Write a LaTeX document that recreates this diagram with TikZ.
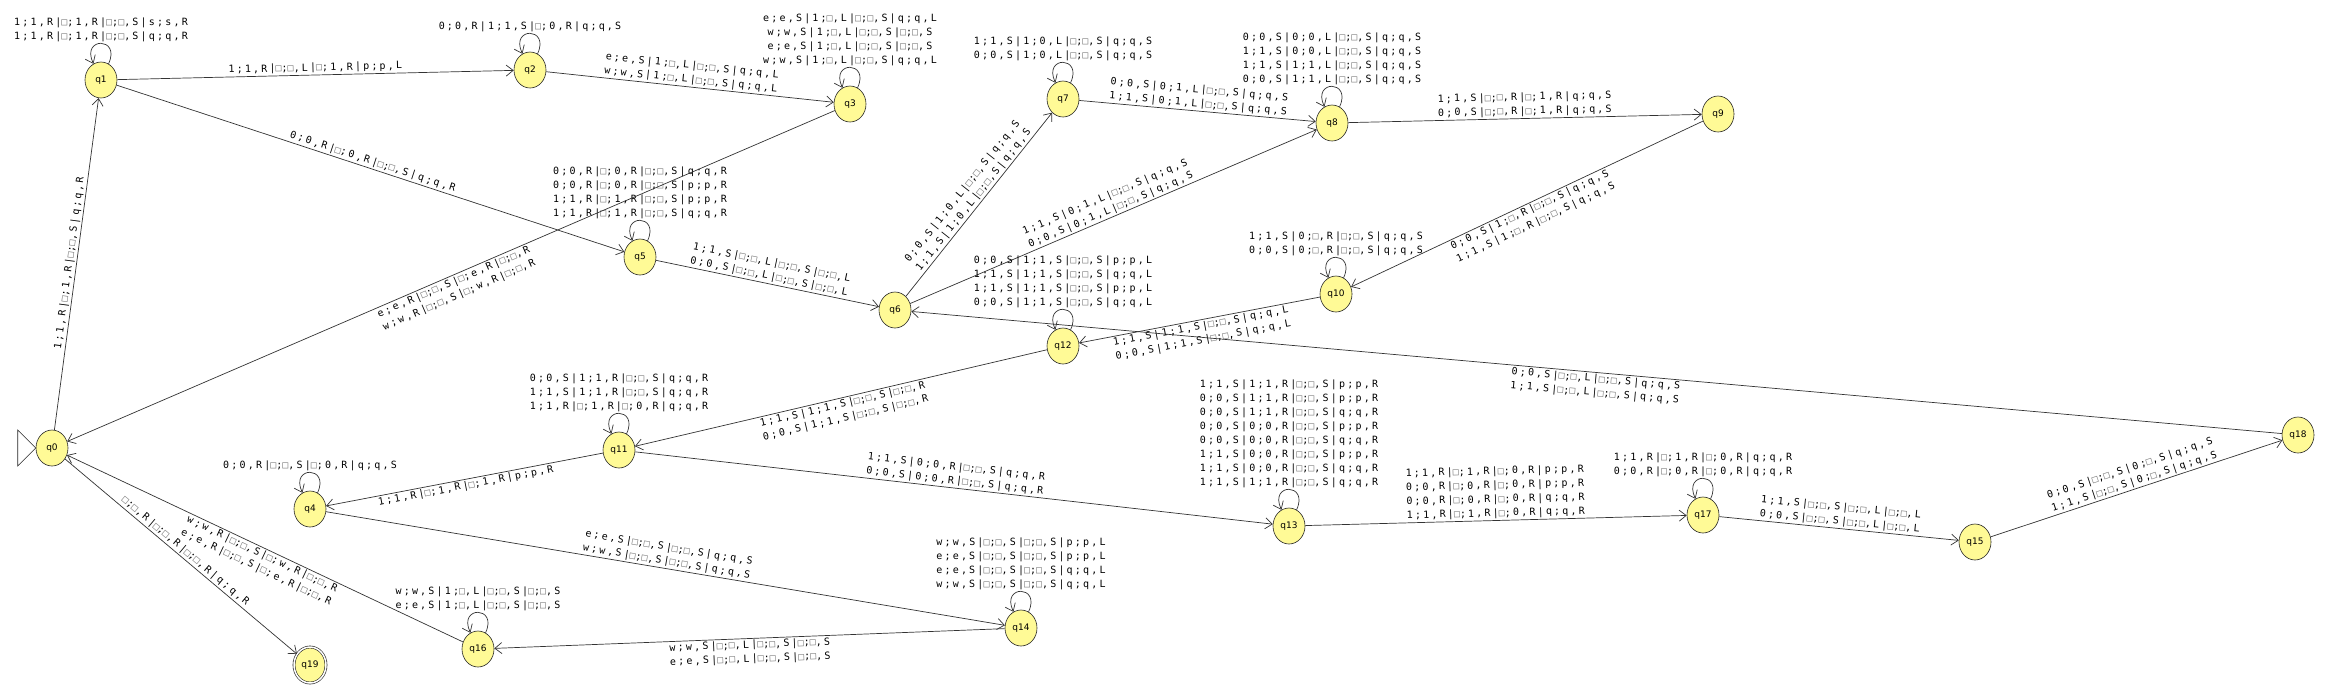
\documentclass[tikz,border=0pt]{standalone}
\usepackage{fontspec}
\usetikzlibrary{arrows.meta,shapes.geometric}
\newfontfamily\lblfam[LetterSpace=22]{DejaVu Sans Mono}
\newfontfamily\statefam{DejaVu Sans}
\definecolor{stfill}{RGB}{255,250,150}
\definecolor{boxgray}{RGB}{120,120,120}
\newcommand\bx{\textcolor{boxgray}{□}}
\begin{document}
\begin{tikzpicture}[x=1pt,y=1pt,
  st/.style={ellipse,draw=black!85,fill=stfill,line width=0.6pt,minimum width=32pt,minimum height=36pt,inner sep=0pt,font=\statefam\fontsize{9}{10}\selectfont},
  tr/.style={draw=black!80,line width=0.7pt,-{Straight Barb[length=7pt,width=11pt,line width=0.7pt]}},
  lb/.style={sloped,align=center,inner sep=1.5pt,font=\lblfam\fontsize{10}{14}\selectfont},
  lpa/.style={lb,above},
  lpb/.style={lb,below},
  lp/.style={align=center,inner sep=1pt,above,font=\lblfam\fontsize{10}{14}\selectfont},
  lo/.style={out=65,in=115,min distance=30pt,looseness=1}
]
\useasboundingbox[fill=white] (0,0) rectangle (2328,-686);
\node[st] (q0) at (52,-448) {q0};
\node[st] (q1) at (101,-80) {q1};
\node[st] (q2) at (530,-70) {q2};
\node[st] (q3) at (850,-104) {q3};
\node[st] (q4) at (310,-509) {q4};
\node[st] (q5) at (640,-257) {q5};
\node[st] (q6) at (895,-310) {q6};
\node[st] (q7) at (1063,-99) {q7};
\node[st] (q8) at (1332,-123) {q8};
\node[st] (q9) at (1718,-114) {q9};
\node[st] (q10) at (1336,-294) {q10};
\node[st] (q11) at (619,-450) {q11};
\node[st] (q12) at (1063,-346) {q12};
\node[st] (q13) at (1289,-526) {q13};
\node[st] (q14) at (1021,-628) {q14};
\node[st] (q15) at (1975,-542) {q15};
\node[st] (q16) at (478,-649) {q16};
\node[st] (q17) at (1703,-515) {q17};
\node[st] (q18) at (2298,-435) {q18};
\node[st,double,double distance=1.5pt] (q19) at (310,-665) {q19};
\draw[black!85,line width=0.6pt,fill=white] (q0.west) -- ++(-18,18) -- ++(0,-36) -- cycle;

\draw[tr] (q0) -- node[lpa]{1;1,R|\bx;1,R|\bx;\bx,S|q;q,R} (q1);
\draw[tr] (q1) to[lo] node[lp]{1;1,R|\bx;1,R|\bx;\bx,S|s;s,R\\1;1,R|\bx;1,R|\bx;\bx,S|q;q,R} (q1);
\draw[tr] (q1) -- node[lpa]{1;1,R|\bx;\bx,L|\bx;1,R|p;p,L} (q2);
\draw[tr] (q2) to[lo] node[lp]{0;0,R|1;1,S|\bx;0,R|q;q,S} (q2);
\draw[tr] (q2) -- node[lpa]{e;e,S|1;\bx,L|\bx;\bx,S|q;q,L\\w;w,S|1;\bx,L|\bx;\bx,S|q;q,L} (q3);
\draw[tr] (q3) to[lo] node[lp]{e;e,S|1;\bx,L|\bx;\bx,S|q;q,L\\w;w,S|1;\bx,L|\bx;\bx,S|\bx;\bx,S\\e;e,S|1;\bx,L|\bx;\bx,S|\bx;\bx,S\\w;w,S|1;\bx,L|\bx;\bx,S|q;q,L} (q3);
\draw[tr] (q1) -- node[lpa]{0;0,R|\bx;0,R|\bx;\bx,S|q;q,R} (q5);
\draw[tr] (q5) to[lo] node[lp]{0;0,R|\bx;0,R|\bx;\bx,S|q;q,R\\0;0,R|\bx;0,R|\bx;\bx,S|p;p,R\\1;1,R|\bx;1,R|\bx;\bx,S|p;p,R\\1;1,R|\bx;1,R|\bx;\bx,S|q;q,R} (q5);
\draw[tr] (q3) -- node[lpb]{e;e,R|\bx;\bx,S|\bx;e,R|\bx;\bx,R\\w;w,R|\bx;\bx,S|\bx;w,R|\bx;\bx,R} (q0);
\draw[tr] (q5) -- node[lpa]{1;1,S|\bx;\bx,L|\bx;\bx,S|\bx;\bx,L\\0;0,S|\bx;\bx,L|\bx;\bx,S|\bx;\bx,L} (q6);
\draw[tr] (q6) -- node[lpa]{0;0,S|1;0,L|\bx;\bx,S|q;q,S\\1;1,S|1;0,L|\bx;\bx,S|q;q,S} (q7);
\draw[tr] (q7) to[lo] node[lp]{1;1,S|1;0,L|\bx;\bx,S|q;q,S\\0;0,S|1;0,L|\bx;\bx,S|q;q,S} (q7);
\draw[tr] (q7) -- node[lpa]{0;0,S|0;1,L|\bx;\bx,S|q;q,S\\1;1,S|0;1,L|\bx;\bx,S|q;q,S} (q8);
\draw[tr] (q8) to[lo] node[lp]{0;0,S|0;0,L|\bx;\bx,S|q;q,S\\1;1,S|0;0,L|\bx;\bx,S|q;q,S\\1;1,S|1;1,L|\bx;\bx,S|q;q,S\\0;0,S|1;1,L|\bx;\bx,S|q;q,S} (q8);
\draw[tr] (q6) -- node[lpa]{1;1,S|0;1,L|\bx;\bx,S|q;q,S\\0;0,S|0;1,L|\bx;\bx,S|q;q,S} (q8);
\draw[tr] (q8) -- node[lpa]{1;1,S|\bx;\bx,R|\bx;1,R|q;q,S\\0;0,S|\bx;\bx,R|\bx;1,R|q;q,S} (q9);
\draw[tr] (q9) -- node[lpb]{0;0,S|1;\bx,R|\bx;\bx,S|q;q,S\\1;1,S|1;\bx,R|\bx;\bx,S|q;q,S} (q10);
\draw[tr] (q10) to[lo] node[lp]{1;1,S|0;\bx,R|\bx;\bx,S|q;q,S\\0;0,S|0;\bx,R|\bx;\bx,S|q;q,S} (q10);
\draw[tr] (q10) -- node[lpb]{1;1,S|1;1,S|\bx;\bx,S|q;q,L\\0;0,S|1;1,S|\bx;\bx,S|q;q,L} (q12);
\draw[tr] (q12) to[lo] node[lp]{0;0,S|1;1,S|\bx;\bx,S|p;p,L\\1;1,S|1;1,S|\bx;\bx,S|q;q,L\\1;1,S|1;1,S|\bx;\bx,S|p;p,L\\0;0,S|1;1,S|\bx;\bx,S|q;q,L} (q12);
\draw[tr] (q18) -- node[lpb]{0;0,S|\bx;\bx,L|\bx;\bx,S|q;q,S\\1;1,S|\bx;\bx,L|\bx;\bx,S|q;q,S} (q6);
\draw[tr] (q12) -- node[lpb]{1;1,S|1;1,S|\bx;\bx,S|\bx;\bx,R\\0;0,S|1;1,S|\bx;\bx,S|\bx;\bx,R} (q11);
\draw[tr] (q11) to[lo] node[lp]{0;0,S|1;1,R|\bx;\bx,S|q;q,R\\1;1,S|1;1,R|\bx;\bx,S|q;q,R\\1;1,R|\bx;1,R|\bx;0,R|q;q,R} (q11);
\draw[tr] (q11) -- node[lpb]{1;1,R|\bx;1,R|\bx;1,R|p;p,R} (q4);
\draw[tr] (q4) to[lo] node[lp]{0;0,R|\bx;\bx,S|\bx;0,R|q;q,S} (q4);
\draw[tr] (q11) -- node[lpa]{1;1,S|0;0,R|\bx;\bx,S|q;q,R\\0;0,S|0;0,R|\bx;\bx,S|q;q,R} (q13);
\draw[tr] (q13) to[lo] node[lp]{1;1,S|1;1,R|\bx;\bx,S|p;p,R\\0;0,S|1;1,R|\bx;\bx,S|p;p,R\\0;0,S|1;1,R|\bx;\bx,S|q;q,R\\0;0,S|0;0,R|\bx;\bx,S|p;p,R\\0;0,S|0;0,R|\bx;\bx,S|q;q,R\\1;1,S|0;0,R|\bx;\bx,S|p;p,R\\1;1,S|0;0,R|\bx;\bx,S|q;q,R\\1;1,S|1;1,R|\bx;\bx,S|q;q,R} (q13);
\draw[tr] (q13) -- node[lpa]{1;1,R|\bx;1,R|\bx;0,R|p;p,R\\0;0,R|\bx;0,R|\bx;0,R|p;p,R\\0;0,R|\bx;0,R|\bx;0,R|q;q,R\\1;1,R|\bx;1,R|\bx;0,R|q;q,R} (q17);
\draw[tr] (q17) to[lo] node[lp]{1;1,R|\bx;1,R|\bx;0,R|q;q,R\\0;0,R|\bx;0,R|\bx;0,R|q;q,R} (q17);
\draw[tr] (q17) -- node[lpa]{1;1,S|\bx;\bx,S|\bx;\bx,L|\bx;\bx,L\\0;0,S|\bx;\bx,S|\bx;\bx,L|\bx;\bx,L} (q15);
\draw[tr] (q15) -- node[lpa]{0;0,S|\bx;\bx,S|0;\bx,S|q;q,S\\1;1,S|\bx;\bx,S|0;\bx,S|q;q,S} (q18);
\draw[tr] (q4) -- node[lpa]{e;e,S|\bx;\bx,S|\bx;\bx,S|q;q,S\\w;w,S|\bx;\bx,S|\bx;\bx,S|q;q,S} (q14);
\draw[tr] (q14) to[lo] node[lp]{w;w,S|\bx;\bx,S|\bx;\bx,S|p;p,L\\e;e,S|\bx;\bx,S|\bx;\bx,S|p;p,L\\e;e,S|\bx;\bx,S|\bx;\bx,S|q;q,L\\w;w,S|\bx;\bx,S|\bx;\bx,S|q;q,L} (q14);
\draw[tr] (q14) -- node[lpb]{w;w,S|\bx;\bx,L|\bx;\bx,S|\bx;\bx,S\\e;e,S|\bx;\bx,L|\bx;\bx,S|\bx;\bx,S} (q16);
\draw[tr] (q16) to[lo] node[lp]{w;w,S|1;\bx,L|\bx;\bx,S|\bx;\bx,S\\e;e,S|1;\bx,L|\bx;\bx,S|\bx;\bx,S} (q16);
\draw[tr] (q16) -- node[lpb]{w;w,R|\bx;\bx,S|\bx;w,R|\bx;\bx,R\\e;e,R|\bx;\bx,S|\bx;e,R|\bx;\bx,R} (q0);
\draw[tr] (q0) -- node[lpa]{\bx;\bx,R|\bx;\bx,R|\bx;\bx,R|q;q,R} (q19);
\end{tikzpicture}
\end{document}
